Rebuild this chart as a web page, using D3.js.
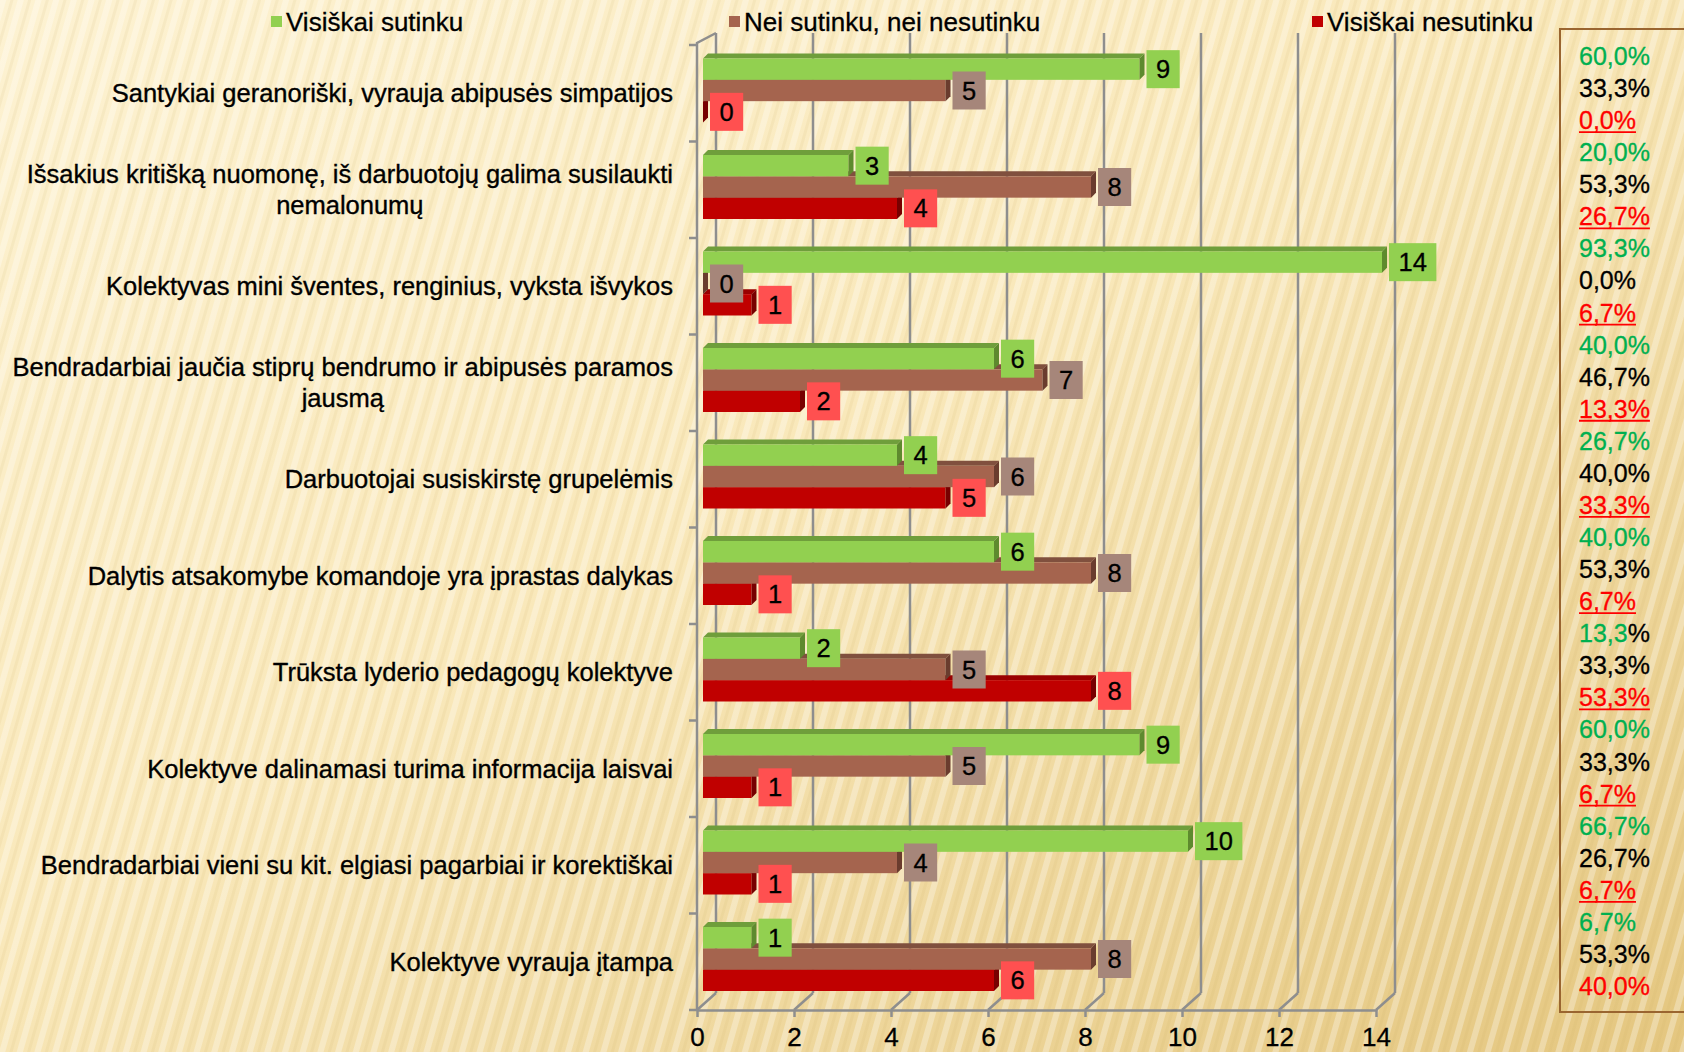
<!DOCTYPE html>
<html>
<head>
<meta charset="utf-8">
<script src="https://cdn.jsdelivr.net/npm/d3@7"></script>
<style>
  body { margin:0; overflow:hidden; }
  svg { display:block; }
</style>
</head>
<body>
<div id="chart"></div>
<script>
// data
var categories = [
  "Santykiai geranoriški, vyrauja abipusės simpatijos",
  "Išsakius kritišką nuomonę, iš darbuotojų galima susilaukti\nnemalonumų",
  "Kolektyvas mini šventes,  renginius, vyksta išvykos",
  "Bendradarbiai jaučia stiprų bendrumo ir abipusės paramos\njausmą",
  "Darbuotojai susiskirstę grupelėmis",
  "Dalytis atsakomybe komandoje yra įprastas dalykas ",
  "Trūksta lyderio pedagogų kolektyve",
  "Kolektyve dalinamasi turima informacija laisvai",
  "Bendradarbiai vieni su kit. elgiasi pagarbiai ir korektiškai",
  "Kolektyve vyrauja įtampa"
];
var seriesNames = ["Visiškai sutinku", "Nei sutinku, nei nesutinku", "Visiškai nesutinku"];
var agree    = [9, 3, 14, 6, 4, 6, 2, 9, 10, 1];
var neutral  = [5, 8, 0, 7, 6, 8, 5, 5, 4, 8];
var disagree = [0, 4, 1, 2, 5, 1, 8, 1, 1, 6];
var xTicks = [0, 2, 4, 6, 8, 10, 12, 14];
var pctLabels = [
  "60,0%", "33,3%", "0,0%",
  "20,0%", "53,3%", "26,7%",
  "93,3%", "0,0%", "6,7%",
  "40,0%", "46,7%", "13,3%",
  "26,7%", "40,0%", "33,3%",
  "40,0%", "53,3%", "6,7%",
  "13,3%", "33,3%", "53,3%",
  "60,0%", "33,3%", "6,7%",
  "66,7%", "26,7%", "6,7%",
  "6,7%", "53,3%", "40,0%"
];

var W = 1684, H = 1052;
var plot = { left:697, right:1376, top:45, bottom:1010 };
var depth = { dx:19, dyTop:-12, dyBot:-17 };   // back wall offset
var barShift = 6, bd = 5;                       // bars sit a bit inside the depth
var FONT = "'Liberation Sans', Arial, sans-serif";

var front = ["#92D050", "#A5644E", "#C00000"],
    topC  = ["#6F9E3B", "#80503E", "#9A0000"],
    sideC = ["#5E8A2E", "#6A3C2E", "#780000"],
    boxC  = ["#92D050", "#A6867A", "#FF5050"],
    pctC  = ["#00B050", "#000000", "#FF0000"];

var rows = categories.map(function(c, i) {
  return { cat:c, i:i, vals:[agree[i], neutral[i], disagree[i]] };
});

var svg = d3.select("#chart").append("svg")
    .attr("width", W).attr("height", H);

// background
var defs = svg.append("defs");
var grad = defs.append("linearGradient").attr("id", "bgGrad")
    .attr("x1", 0).attr("y1", 0).attr("x2", 1).attr("y2", 1);
grad.append("stop").attr("offset", "0").attr("stop-color", "#FDF2D2");
grad.append("stop").attr("offset", "0.45").attr("stop-color", "#F9E8BA");
grad.append("stop").attr("offset", "1").attr("stop-color", "#E4C67F");
var pat = defs.append("pattern").attr("id", "stripes")
    .attr("patternUnits", "userSpaceOnUse")
    .attr("width", 17).attr("height", 40)
    .attr("patternTransform", "rotate(16)");
pat.append("rect").attr("width", 6).attr("height", 40).attr("fill", "#ffffff").attr("opacity", 0.3);
pat.append("rect").attr("x", 10).attr("width", 3).attr("height", 40).attr("fill", "#c9a856").attr("opacity", 0.1);

svg.append("rect").attr("width", W).attr("height", H).attr("fill", "url(#bgGrad)");
svg.append("rect").attr("width", W).attr("height", H).attr("fill", "url(#stripes)");

// scales
var x = d3.scaleLinear().domain([0, 14]).range([plot.left, plot.right]);
var y = d3.scaleBand().domain(d3.range(categories.length)).range([plot.top, plot.bottom]);
var yIn = d3.scaleBand().domain([0, 1, 2]).range([13.5, 77.5]);

var gridCol = "#8E8E8E";
var grid = svg.append("g").attr("stroke", gridCol).attr("stroke-width", 2.5).attr("fill", "none");

// back wall gridlines
grid.selectAll(".gl").data(xTicks).enter().append("line")
    .attr("x1", function(d){ return x(d) + depth.dx; })
    .attr("x2", function(d){ return x(d) + depth.dx; })
    .attr("y1", plot.top + depth.dyTop)
    .attr("y2", plot.bottom + depth.dyBot);
// floor diagonals
grid.selectAll(".fl").data(xTicks).enter().append("line")
    .attr("x1", function(d){ return x(d); })
    .attr("x2", function(d){ return x(d) + depth.dx; })
    .attr("y1", plot.bottom)
    .attr("y2", plot.bottom + depth.dyBot);
// front left axis + top slant
grid.append("path")
    .attr("d", "M" + (x(0) + depth.dx) + "," + (plot.top + depth.dyTop) +
               "L" + x(0) + "," + (plot.top - 2) + "L" + x(0) + "," + plot.bottom);
// category boundary ticks
var bounds = d3.range(categories.length).map(function(i){ return y(i); }).concat([plot.bottom]);
grid.selectAll(".yt").data(bounds).enter().append("line")
    .attr("x1", x(0) - 8).attr("x2", x(0))
    .attr("y1", function(d){ return d; }).attr("y2", function(d){ return d; });

// x axis
var xAxis = svg.append("g")
    .attr("transform", "translate(0," + plot.bottom + ")")
    .call(d3.axisBottom(x).tickValues(xTicks).tickSize(7).tickPadding(11).tickSizeOuter(0));
xAxis.select(".domain").attr("stroke", gridCol).attr("stroke-width", 2.5);
xAxis.selectAll(".tick line").attr("stroke", gridCol).attr("stroke-width", 2.5);
xAxis.selectAll("text").attr("font-family", FONT).attr("font-size", "26px").attr("fill", "#000")
    .attr("stroke", "#000").attr("stroke-width", 0.3);

// bars (bottom bar first so the upper front faces cover the top faces below)
var bars = svg.append("g");
rows.forEach(function(r) {
  [2, 1, 0].forEach(function(k) {
    var y0 = y(r.i) + yIn(k), h = yIn.bandwidth();
    var x0 = x(0) + barShift, x1 = x(r.vals[k]) + barShift;
    bars.append("polygon")
        .attr("points", [[x0, y0], [x0 + bd, y0 - bd], [x1 + bd, y0 - bd], [x1, y0]].join(" "))
        .attr("fill", topC[k]);
    bars.append("rect")
        .attr("x", x0).attr("y", y0)
        .attr("width", x1 - x0).attr("height", h)
        .attr("fill", front[k]);
    bars.append("polygon")
        .attr("points", [[x1, y0], [x1 + bd, y0 - bd], [x1 + bd, y0 + h - bd], [x1, y0 + h]].join(" "))
        .attr("fill", sideC[k]);
  });
});

// value boxes
var lab = svg.append("g");
rows.forEach(function(r) {
  [0, 1, 2].forEach(function(k) {
    var cy = y(r.i) + yIn(k) + yIn.bandwidth() / 2;
    var bx = x(r.vals[k]) + barShift + 7;
    var g = lab.append("g");
    var rect = g.append("rect").attr("fill", boxC[k]);
    var t = g.append("text")
        .attr("font-family", FONT).attr("font-size", "25.5px")
        .attr("fill", "#000").attr("stroke", "#000").attr("stroke-width", 0.3)
        .attr("text-anchor", "middle")
        .text(r.vals[k]);
    var tw = t.node().getComputedTextLength();
    var bw = tw + 19;
    rect.attr("x", bx).attr("y", cy - 19).attr("width", bw).attr("height", 38);
    t.attr("x", bx + bw / 2).attr("y", cy + 9);
  });
});

// category labels
var catG = svg.append("g")
    .attr("font-family", FONT).attr("font-size", "25.5px").attr("fill", "#000")
    .attr("stroke", "#000").attr("stroke-width", 0.35)
    .attr("text-anchor", "end");
rows.forEach(function(r) {
  var lines = r.cat.split("\n");
  var cy = y(r.i) + y.bandwidth() / 2;
  var lh = 31;
  var t = catG.append("text").attr("x", 673);
  lines.forEach(function(l, j) {
    var yy = cy + (j - (lines.length - 1) / 2) * lh + 9;
    t.append("tspan").attr("x", 673).attr("y", yy).text(l);
  });
  if (lines.length > 1) {
    // later lines are centred under the first
    var w1 = t.select("tspan").node().getComputedTextLength();
    t.selectAll("tspan").filter(function(d, j){ return j > 0; })
        .attr("text-anchor", "middle").attr("x", 673 - w1 / 2);
  }
});

// legend
var legX = [271, 729, 1312];
var leg = svg.append("g").attr("font-family", FONT).attr("font-size", "26px")
    .attr("stroke", "#000").attr("stroke-width", 0.3);
seriesNames.forEach(function(s, k) {
  leg.append("rect").attr("x", legX[k]).attr("y", 16).attr("width", 11).attr("height", 11)
      .attr("fill", front[k]).attr("stroke", "none");
  leg.append("text").attr("x", legX[k] + 15).attr("y", 31).attr("fill", "#000").text(s);
});

// percentage panel
svg.append("rect")
    .attr("x", 1560).attr("y", 29).attr("width", 200).attr("height", 983)
    .attr("fill", "none").attr("stroke", "#9A6530").attr("stroke-width", 2);
var pctG = svg.append("g").attr("font-family", FONT).attr("font-size", "25px");
var pStep = (984 - 54) / (pctLabels.length - 1);
pctLabels.forEach(function(p, i) {
  var k = i % 3, yy = 56 + i * pStep + 9;
  var t = pctG.append("text").attr("x", 1579).attr("y", yy).attr("stroke-width", 0.3);
  if (i === 18) {
    t.append("tspan").attr("fill", pctC[0]).attr("stroke", pctC[0]).text(p.replace("%", ""));
    t.append("tspan").attr("fill", "#000").attr("stroke", "#000").text("%");
  } else {
    t.attr("fill", pctC[k]).attr("stroke", pctC[k]).text(p);
  }
  if (k === 2 && i !== pctLabels.length - 1) {
    var w = t.node().getComputedTextLength();
    pctG.append("line").attr("x1", 1579).attr("x2", 1579 + w)
        .attr("y1", yy + 3).attr("y2", yy + 3)
        .attr("stroke", pctC[2]).attr("stroke-width", 1.8);
  }
});
</script>
</body>
</html>
